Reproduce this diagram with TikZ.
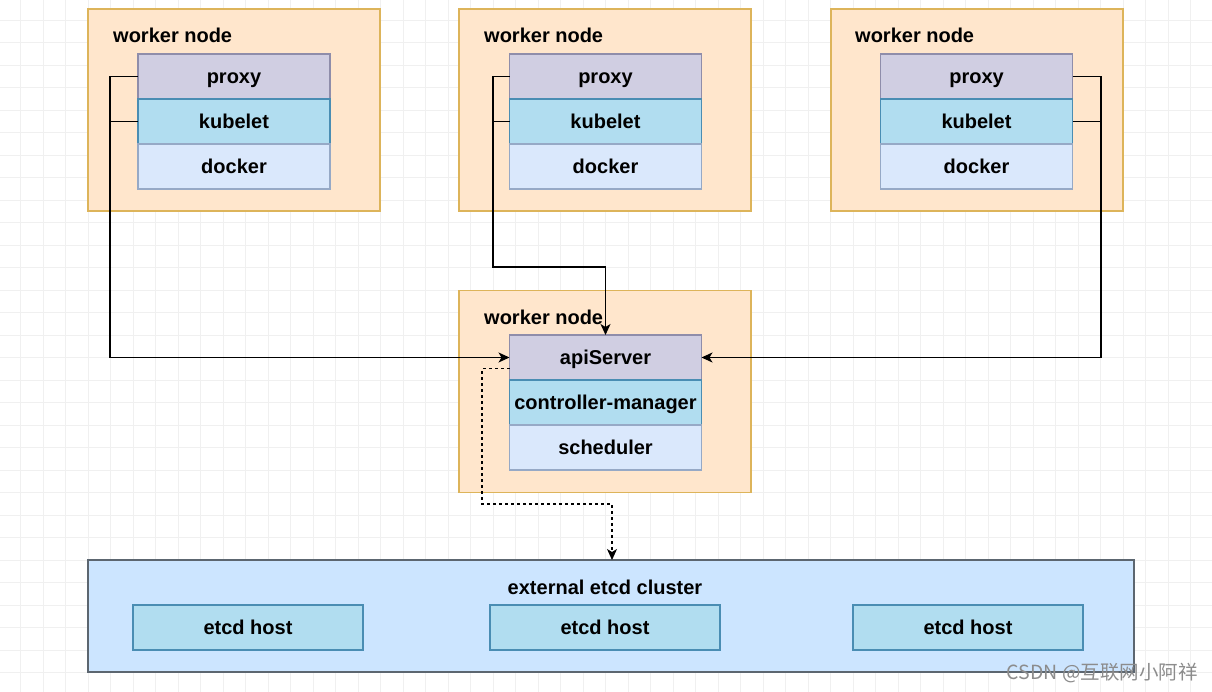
\documentclass[tikz,border=0pt]{standalone}
\usepackage{fontspec}
\setmainfont{Liberation Sans}
\newfontfamily\cjk{Noto Sans CJK SC}
\usetikzlibrary{arrows.meta}
\definecolor{wfill}{HTML}{FFE6CC}
\definecolor{wdraw}{HTML}{DDB45A}
\definecolor{pfill}{HTML}{D0CEE2}
\definecolor{pdraw}{HTML}{8F8DAA}
\definecolor{kfill}{HTML}{B1DDF0}
\definecolor{kdraw}{HTML}{4A8DB3}
\definecolor{dfill}{HTML}{DAE8FC}
\definecolor{ddraw}{HTML}{96A9C6}
\definecolor{efill}{HTML}{CCE5FF}
\definecolor{edraw}{HTML}{5C6670}
\definecolor{gridc}{HTML}{F0F0F0}
\tikzset{
  lbl/.style={font=\bfseries\fontsize{20}{22}\selectfont, text=black, text height=14.5pt, text depth=0.9pt},
  ttl/.style={lbl, anchor=west, inner sep=0pt},
  wbox/.style={draw=wdraw, fill=wfill, line width=1.3pt, minimum width=292pt, minimum height=202pt, inner sep=0pt, outer sep=0pt},
  layer/.style={lbl, line width=1.3pt, minimum width=192pt, minimum height=45pt, inner sep=0pt, outer sep=0pt},
  proxyl/.style={layer, fill=pfill, draw=pdraw},
  kubel/.style={layer, fill=kfill, draw=kdraw},
  dockl/.style={layer, fill=dfill, draw=ddraw},
  hostbox/.style={lbl, fill=kfill, draw=kdraw, line width=1.3pt, minimum width=230pt, minimum height=45pt, inner sep=0pt, outer sep=0pt},
  conn/.style={draw=black, line width=1.4pt},
  arr/.style={conn, -{Stealth[length=11pt,width=10pt,inset=3pt]}},
  gridline/.style={draw=gridc, line width=0.8pt},
}
\begin{document}
\begin{tikzpicture}[x=1pt,y=-1pt]
\useasboundingbox (0,0) rectangle (1212,692);
\fill[white] (0,0) rectangle (1212,692);
\begin{scope}
\clip (0,0) rectangle (1212,692);
\foreach \i in {0,...,54} \draw[gridline] ({-1.8+22.5*\i},0) -- ({-1.8+22.5*\i},692);
\foreach \j in {0,...,30} \draw[gridline] (0,{20+22.5*\j}) -- (1212,{20+22.5*\j});
\end{scope}

% worker nodes
\node[wbox] (w1) at (234,110) {};
\node[wbox] (w2) at (605,110) {};
\node[wbox] (w3) at (977,110) {};
\node[wbox] (wm) at (605,391.5) {};
\node[ttl] (t1) at (113,36) {worker node};
\node[ttl] (t2) at (484,36) {worker node};
\node[ttl] (t3) at (855,36) {worker node};
\node[ttl] (t4) at (484,318) {worker node};

\node[proxyl] (p1) at (234,76.5) {proxy};
\node[kubel]  (k1) at (234,121.5) {kubelet};
\node[dockl]  (d1) at (234,166.5) {docker};
\node[proxyl] (p2) at (605.5,76.5) {proxy};
\node[kubel]  (k2) at (605.5,121.5) {kubelet};
\node[dockl]  (d2) at (605.5,166.5) {docker};
\node[proxyl] (p3) at (976.5,76.5) {proxy};
\node[kubel]  (k3) at (976.5,121.5) {kubelet};
\node[dockl]  (d3) at (976.5,166.5) {docker};

\node[proxyl] (api) at (605.5,357.5) {apiServer};
\node[kubel]  (cm)  at (605.5,402.5) {controller-manager};
\node[dockl]  (sch) at (605.5,447.5) {scheduler};

% etcd
\node[draw=edraw, fill=efill, line width=1.3pt, minimum width=1046pt, minimum height=112pt, inner sep=0pt, outer sep=0pt] (etcd) at (611,616) {};
\node[lbl] (et) at (605,588) {external etcd cluster};
\node[hostbox] (h1) at (248,627.5) {etcd host};
\node[hostbox] (h2) at (605,627.5) {etcd host};
\node[hostbox] (h3) at (968,627.5) {etcd host};

% connectors
\coordinate (c1) at (110,357.5);
\coordinate (c2) at (493,267);
\coordinate (c3) at (1101,357.5);
\draw[arr] (p1.west) -| (c1) -- (api.west);
\draw[conn] (k1.west) -- (k1.west -| c1);
\draw[arr] (p2.west) -| (c2) -| (api.north);
\draw[conn] (k2.west) -- (k2.west -| c2);
\draw[arr] (p3.east) -| (c3) -- (api.east);
\draw[conn] (k3.east) -- (k3.east -| c3);

\coordinate (e0) at ([yshift=-11pt]api.west);
\coordinate (e1) at (482,504);
\coordinate (e2) at (612,504);
\draw[arr, line width=1.1pt, dash pattern=on 3pt off 3pt] (e0) -| (e1) -- (e2) -- (e2 |- etcd.north);

\node[anchor=east, text=black!45, font=\cjk\fontsize{19.5}{19.5}\selectfont, inner sep=0pt] (wmk) at (1198,673) {CSDN @互联网小阿祥};
\end{tikzpicture}
\end{document}
